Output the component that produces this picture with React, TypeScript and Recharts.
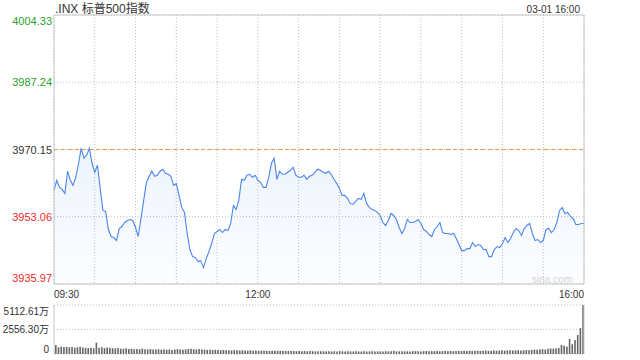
import { Area, Bar, BarChart, CartesianGrid, ComposedChart, Line, ReferenceLine, XAxis, YAxis } from "recharts";

// S&P 500 (.INX) intraday, 2-minute samples from 09:30 to 16:00

const TITLE = ".INX 标普500指数";
const STAMP = "03-01 16:00";
const WATERMARK = "sina.com";

const PREV_CLOSE = 3970.15;
const PRICE_TICKS = [3935.97, 3953.06, 3970.15, 3987.24, 4004.33];
const VOLUME_TICKS = [0, 2556.3, 5112.61];

const GRID_MINUTES = [0, 30, 60, 90, 120, 150, 180, 210, 240, 270, 300, 330, 360, 390];
const TIME_LABEL_MINUTES = [0, 150, 390];
const TIME_LABELS = ["09:30", "12:00", "16:00"];

const PRICES = [
  3959.77, 3962.32, 3960.53, 3960.02, 3959.0, 3964.62, 3962.32, 3961.04, 3963.09, 3966.4,
  3970.48, 3967.93, 3968.7, 3970.48, 3966.65, 3964.36, 3966.15, 3960.28, 3954.67, 3954.41,
  3949.82, 3948.03, 3947.78, 3947.01, 3950.07, 3950.58, 3951.6, 3952.11, 3952.37, 3952.11,
  3950.33, 3948.03, 3952.63, 3957.22, 3961.81, 3963.34, 3964.62, 3963.34, 3963.6, 3964.62,
  3965.13, 3964.11, 3963.85, 3963.34, 3961.04, 3961.55, 3958.49, 3955.43, 3954.16, 3948.8,
  3944.72, 3942.93, 3942.68, 3941.66, 3941.91, 3940.13, 3942.42, 3944.21, 3946.25, 3948.8,
  3949.31, 3949.82, 3949.05, 3949.82, 3949.56, 3951.35, 3955.94, 3954.92, 3957.22, 3962.57,
  3962.32, 3963.6, 3963.85, 3963.09, 3963.6, 3962.32, 3961.81, 3960.53, 3960.53, 3963.09,
  3966.65, 3967.93, 3962.57, 3964.62, 3963.85, 3963.85, 3964.36, 3964.87, 3965.64, 3963.6,
  3963.09, 3963.09, 3963.6, 3962.57, 3963.34, 3963.6, 3964.36, 3965.13, 3964.87, 3964.36,
  3964.11, 3964.62, 3963.85, 3962.57, 3961.55, 3960.28, 3958.49, 3958.49, 3957.73, 3956.45,
  3956.2, 3956.96, 3957.73, 3957.47, 3959.0, 3956.45, 3955.43, 3954.92, 3954.67, 3954.16,
  3953.39, 3951.6, 3950.84, 3952.11, 3953.9, 3953.39, 3952.37, 3950.33, 3948.8, 3950.07,
  3952.37, 3951.6, 3951.6, 3951.86, 3952.37, 3951.35, 3949.82, 3949.31, 3948.54, 3948.03,
  3949.82, 3950.58, 3951.6, 3949.05, 3948.8, 3948.8, 3948.54, 3948.8, 3947.52, 3945.99,
  3944.46, 3944.46, 3944.97, 3944.97, 3946.5, 3945.48, 3945.99, 3945.74, 3944.72, 3944.72,
  3942.93, 3942.93, 3944.72, 3945.48, 3945.23, 3946.25, 3947.78, 3946.5, 3947.52, 3949.05,
  3950.07, 3949.56, 3948.29, 3950.07, 3950.84, 3951.35, 3948.8, 3947.01, 3947.27, 3946.5,
  3947.01, 3949.82, 3950.07, 3949.05, 3949.82, 3951.6, 3954.67, 3955.43, 3953.9, 3954.16,
  3953.13, 3952.63, 3951.09, 3951.09, 3951.35, 3951.35,
];

// volume in 万 shares
const VOLUMES = [
  930, 700, 760, 720, 740, 690, 720, 650, 700, 760,
  680, 640, 620, 660, 600, 1180, 640, 720, 620, 680,
  660, 600, 580, 620, 560, 540, 600, 520, 560, 500,
  520, 480, 560, 500, 470, 520, 460, 480, 500, 450,
  470, 440, 480, 430, 460, 520, 470, 440, 480, 520,
  540, 500, 470, 510, 480, 460, 430, 450, 410, 440,
  410, 390, 420, 380, 400, 370, 400, 380, 360, 390,
  370, 350, 380, 340, 360, 330, 350, 370, 340, 320,
  350, 330, 340, 320, 310, 330, 300, 320, 310, 290,
  310, 290, 310, 280, 300, 290, 270, 290, 280, 290,
  270, 280, 260, 290, 270, 300, 280, 260, 280, 270,
  260, 280, 270, 250, 280, 260, 270, 290, 260, 270,
  280, 260, 290, 270, 280, 300, 270, 280, 290, 270,
  280, 260, 290, 300, 280, 270, 290, 310, 280, 300,
  290, 310, 280, 300, 320, 290, 310, 300, 320, 340,
  310, 330, 320, 340, 310, 330, 350, 320, 340, 360,
  330, 350, 370, 340, 360, 380, 350, 370, 390, 360,
  380, 400, 370, 390, 420, 400, 430, 460, 440, 480,
  500, 460, 540, 580, 560, 600, 630, 950, 850, 780,
  1570, 1020, 1450, 1980, 2700, 5112.61,
];

const FONT = "'Liberation Sans', Arial, 'Noto Sans CJK SC', sans-serif";
const GREEN = "#2aa22a";
const RED = "#ee2a2a";
const TEXT = "#333";
const BORDER = "#c8c8c8";
const GRID = "#bdbdbd";
const LINE = "#4a87ec";
const ORANGE = "#f5913c";

const Y_MIN = PRICE_TICKS[0];
const Y_MAX = PRICE_TICKS[PRICE_TICKS.length - 1];
const toPct = (p: number) => ((p - PREV_CLOSE) / PREV_CLOSE) * 100;
const PCT_TICKS = PRICE_TICKS.map(toPct);

// previous close is carried on every row so it can be drawn as a flat series
const priceData = PRICES.map((price, i) => ({ t: i * 2, price, prev: PREV_CLOSE }));
const volumeData = VOLUMES.map((vol, i) => ({ t: i * 2, vol }));

const tone = (sign: number) => (sign > 0 ? GREEN : sign < 0 ? RED : TEXT);

// top / bottom labels sit inside the frame, the rest are centred on their line
const edgeShift = (i: number, n: number, top: number, bottom: number, mid = 4) =>
  i === n - 1 ? top : i === 0 ? bottom : mid;

const PriceTick = (props: any) => {
  const { x, y, payload, index } = props;
  const v: number = payload.value;
  return (
    <text x={x - 2} y={y + edgeShift(index, PRICE_TICKS.length, 9.5, -2)} textAnchor="end"
      fontSize={11} fontFamily={FONT} fill={tone(v - PREV_CLOSE)}>
      {v.toFixed(2)}
    </text>
  );
};

const PctTick = (props: any) => {
  const { x, y, payload, index } = props;
  const v: number = payload.value;
  const s = Math.abs(v) < 0.005 ? "0.00%" : `${v > 0 ? "+" : ""}${v.toFixed(2)}%`;
  return (
    <text x={x + 6} y={y + edgeShift(index, PCT_TICKS.length, 9.5, -2)} textAnchor="start"
      fontSize={11} fontFamily={FONT} fill={tone(Math.abs(v) < 0.005 ? 0 : v)}>
      {s}
    </text>
  );
};

const TimeTick = (props: any) => {
  const { x, y, payload } = props;
  const k = TIME_LABEL_MINUTES.indexOf(payload.value);
  if (k < 0) return null;
  const anchor = k === 0 ? "start" : k === TIME_LABELS.length - 1 ? "end" : "middle";
  return (
    <text x={x} y={y + 13.5} textAnchor={anchor} fontSize={10} fontFamily={FONT} fill={TEXT}>
      {TIME_LABELS[k]}
    </text>
  );
};

const VolumeTick = (props: any) => {
  const { x, y, payload, index } = props;
  const v: number = payload.value;
  return (
    <text x={x - 5} y={y + edgeShift(index, VOLUME_TICKS.length, 9.5, -1.5, 3.5)} textAnchor="end"
      fontSize={10} fontFamily={FONT} fill={TEXT}>
      {v === 0 ? "0" : `${v.toFixed(2)}万`}
    </text>
  );
};

export default function App() {
  return (
    <div style={{ position: "absolute", left: 0, top: 0, width: 640, height: 360, background: "#fff" }}>
      <div style={{ position: "absolute", left: 0, top: 0 }}>
        <ComposedChart width={640} height={300} data={priceData} margin={{ top: 15, right: 0, bottom: 0, left: 0 }}>
          <defs>
            <linearGradient id="priceFill" x1="0" y1="0" x2="0" y2="1">
              <stop offset="0%" stopColor={LINE} stopOpacity={0.16} />
              <stop offset="100%" stopColor={LINE} stopOpacity={0.03} />
            </linearGradient>
          </defs>
          <CartesianGrid stroke={GRID} strokeDasharray="1 2" />
          <XAxis dataKey="t" type="number" domain={[0, 390]} ticks={GRID_MINUTES} interval={0}
            tick={<TimeTick />} tickLine={false} tickSize={0} tickMargin={0} height={16}
            axisLine={{ stroke: BORDER }} />
          <YAxis domain={[Y_MIN, Y_MAX]} ticks={PRICE_TICKS} interval={0} width={54}
            tick={<PriceTick />} tickLine={false} tickSize={0} tickMargin={0}
            axisLine={{ stroke: BORDER }} />
          <YAxis yAxisId="pct" orientation="right" domain={[PCT_TICKS[0], PCT_TICKS[PCT_TICKS.length - 1]]}
            ticks={PCT_TICKS} interval={0} width={56} tick={<PctTick />} tickLine={false}
            tickSize={0} tickMargin={0} axisLine={{ stroke: BORDER }} />
          <ReferenceLine y={Y_MAX} stroke={BORDER} />
          <Area type="linear" dataKey="price" stroke={LINE} strokeWidth={1.1} fill="url(#priceFill)"
            dot={false} activeDot={false} isAnimationActive={false} />
          <Line type="linear" dataKey="prev" stroke={ORANGE} strokeWidth={1} strokeDasharray="4 3"
            dot={false} activeDot={false} isAnimationActive={false} />
        </ComposedChart>
      </div>
      <div style={{ position: "absolute", left: 0, top: 300 }}>
        <BarChart width={640} height={60} data={volumeData} barCategoryGap={0}
          margin={{ top: 5, right: 0, bottom: 6, left: 0 }}>
          <CartesianGrid stroke={GRID} strokeDasharray="1 2" vertical={false} />
          <XAxis dataKey="t" hide />
          <YAxis domain={[0, VOLUME_TICKS[VOLUME_TICKS.length - 1]]} ticks={VOLUME_TICKS} interval={0}
            width={54} tick={<VolumeTick />} tickLine={false} tickSize={0} tickMargin={0}
            axisLine={{ stroke: BORDER }} />
          <YAxis yAxisId="edge" orientation="right" width={56} tick={false} tickLine={false}
            axisLine={{ stroke: BORDER }} />
          <Bar dataKey="vol" fill="#666" barSize={1.6} isAnimationActive={false} />
        </BarChart>
      </div>
      <svg width={640} height={360} style={{ position: "absolute", left: 0, top: 0, pointerEvents: "none" }}>
        <text x={55} y={12.5} fontSize={12} fontFamily={FONT} fill={TEXT}>{TITLE}</text>
        <text x={580} y={12.5} fontSize={10} fontFamily={FONT} fill={TEXT} textAnchor="end">{STAMP}</text>
        <text x={572} y={282.5} fontSize={10} fontFamily={FONT} fill="#d6d6d6" textAnchor="end">{WATERMARK}</text>
      </svg>
    </div>
  );
}
